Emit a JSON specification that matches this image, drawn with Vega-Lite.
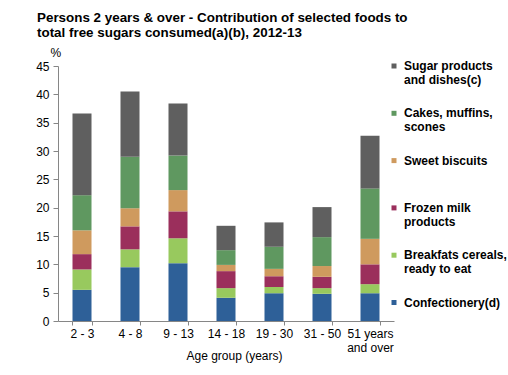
{
  "$schema": "https://vega.github.io/schema/vega-lite/v6.json",
  "width": 336,
  "height": 255,
  "autosize": {"type": "none"},
  "padding": {"left": 58, "top": 66, "right": 114, "bottom": 54},
  "background": "white",
  "config": {"view": {"stroke": null}, "font": "Liberation Sans"},
  "title": {
    "text": ["Persons 2 years & over  - Contribution of selected foods to", "total free sugars consumed(a)(b), 2012-13"],
    "anchor": "start",
    "frame": "group",
    "dx": -21,
    "offset": 7,
    "fontSize": 13.4,
    "fontWeight": "bold",
    "lineHeight": 15,
    "color": "#000000"
  },
  "data": {
    "values": [
      {"age": "2 - 3", "food": "Confectionery(d)", "value": 5.5},
      {"age": "2 - 3", "food": "Breakfats cereals, ready to eat", "value": 3.6},
      {"age": "2 - 3", "food": "Frozen milk products", "value": 2.7},
      {"age": "2 - 3", "food": "Sweet biscuits", "value": 4.2},
      {"age": "2 - 3", "food": "Cakes, muffins, scones", "value": 6.2},
      {"age": "2 - 3", "food": "Sugar products and dishes(c)", "value": 14.4},
      {"age": "4 - 8", "food": "Confectionery(d)", "value": 9.5},
      {"age": "4 - 8", "food": "Breakfats cereals, ready to eat", "value": 3.15},
      {"age": "4 - 8", "food": "Frozen milk products", "value": 4.05},
      {"age": "4 - 8", "food": "Sweet biscuits", "value": 3.2},
      {"age": "4 - 8", "food": "Cakes, muffins, scones", "value": 9.1},
      {"age": "4 - 8", "food": "Sugar products and dishes(c)", "value": 11.5},
      {"age": "9 - 13", "food": "Confectionery(d)", "value": 10.2},
      {"age": "9 - 13", "food": "Breakfats cereals, ready to eat", "value": 4.4},
      {"age": "9 - 13", "food": "Frozen milk products", "value": 4.75},
      {"age": "9 - 13", "food": "Sweet biscuits", "value": 3.75},
      {"age": "9 - 13", "food": "Cakes, muffins, scones", "value": 6.1},
      {"age": "9 - 13", "food": "Sugar products and dishes(c)", "value": 9.2},
      {"age": "14 - 18", "food": "Confectionery(d)", "value": 4.1},
      {"age": "14 - 18", "food": "Breakfats cereals, ready to eat", "value": 1.7},
      {"age": "14 - 18", "food": "Frozen milk products", "value": 3.0},
      {"age": "14 - 18", "food": "Sweet biscuits", "value": 1.1},
      {"age": "14 - 18", "food": "Cakes, muffins, scones", "value": 2.6},
      {"age": "14 - 18", "food": "Sugar products and dishes(c)", "value": 4.3},
      {"age": "19 - 30", "food": "Confectionery(d)", "value": 4.9},
      {"age": "19 - 30", "food": "Breakfats cereals, ready to eat", "value": 1.1},
      {"age": "19 - 30", "food": "Frozen milk products", "value": 1.9},
      {"age": "19 - 30", "food": "Sweet biscuits", "value": 1.3},
      {"age": "19 - 30", "food": "Cakes, muffins, scones", "value": 3.9},
      {"age": "19 - 30", "food": "Sugar products and dishes(c)", "value": 4.3},
      {"age": "31 - 50", "food": "Confectionery(d)", "value": 4.8},
      {"age": "31 - 50", "food": "Breakfats cereals, ready to eat", "value": 1.0},
      {"age": "31 - 50", "food": "Frozen milk products", "value": 2.0},
      {"age": "31 - 50", "food": "Sweet biscuits", "value": 1.9},
      {"age": "31 - 50", "food": "Cakes, muffins, scones", "value": 5.1},
      {"age": "31 - 50", "food": "Sugar products and dishes(c)", "value": 5.3},
      {"age": "51 years and over", "food": "Confectionery(d)", "value": 4.9},
      {"age": "51 years and over", "food": "Breakfats cereals, ready to eat", "value": 1.6},
      {"age": "51 years and over", "food": "Frozen milk products", "value": 3.5},
      {"age": "51 years and over", "food": "Sweet biscuits", "value": 4.5},
      {"age": "51 years and over", "food": "Cakes, muffins, scones", "value": 8.9},
      {"age": "51 years and over", "food": "Sugar products and dishes(c)", "value": 9.3}
    ]
  },
  "transform": [
    {"calculate": "indexof(['Confectionery(d)','Breakfats cereals, ready to eat','Frozen milk products','Sweet biscuits','Cakes, muffins, scones','Sugar products and dishes(c)'], datum.food)", "as": "k"}
  ],
  "mark": {"type": "bar"},
  "encoding": {
    "x": {
      "field": "age",
      "type": "nominal",
      "sort": null,
      "scale": {"paddingInner": 0.604, "paddingOuter": 0.302},
      "axis": {
        "title": "Age group (years)",
        "labelAngle": 0,
        "tickBand": "extent",
        "tickSize": 4,
        "labelPadding": 3,
        "labelFontSize": 12,
        "labelColor": "#000000",
        "labelLineHeight": 14,
        "labelExpr": "datum.value == '51 years and over' ? ['51 years','and over'] : datum.label",
        "domainColor": "#868686",
        "tickColor": "#868686",
        "titleFontSize": 12,
        "titleFontWeight": "normal",
        "titleColor": "#000000",
        "titleBaseline": "top",
        "titleY": 29,
        "titleX": 176
      }
    },
    "y": {
      "field": "value",
      "type": "quantitative",
      "stack": "zero",
      "scale": {"domain": [0, 45], "nice": false},
      "axis": {
        "values": [0, 5, 10, 15, 20, 25, 30, 35, 40, 45],
        "grid": false,
        "title": "%",
        "titleAngle": 0,
        "titleAlign": "left",
        "titleBaseline": "bottom",
        "titleX": -8,
        "titleY": -7,
        "titleFontSize": 12,
        "titleFontWeight": "normal",
        "titleColor": "#000000",
        "labelFontSize": 12,
        "labelColor": "#000000",
        "labelPadding": 4,
        "tickSize": 5,
        "domainColor": "#868686",
        "tickColor": "#868686"
      }
    },
    "color": {
      "field": "food",
      "type": "nominal",
      "scale": {
        "domain": ["Sugar products and dishes(c)", "Cakes, muffins, scones", "Sweet biscuits", "Frozen milk products", "Breakfats cereals, ready to eat", "Confectionery(d)"],
        "range": ["#5f5f5f", "#5f9860", "#cf9a5e", "#9b2f5c", "#98c95e", "#2e6098"]
      },
      "legend": {
        "title": null,
        "orient": "none",
        "legendX": 330,
        "legendY": -6,
        "padding": 0,
        "symbolType": "square",
        "symbolSize": 25,
        "symbolStrokeWidth": 0,
        "labelFontSize": 12,
        "labelFontWeight": "bold",
        "labelColor": "#000000",
        "labelLineHeight": 14,
        "labelOffset": 4,
        "labelLimit": 200,
        "labelBaseline": "alphabetic",
        "gridAlign": "all",
        "rowPadding": 21.3,
        "encode": {"labels": {"update": {"dy": {"value": 4}}}},
        "labelExpr": "datum.label == 'Sugar products and dishes(c)' ? ['Sugar products','and dishes(c)'] : datum.label == 'Cakes, muffins, scones' ? ['Cakes, muffins,','scones'] : datum.label == 'Frozen milk products' ? ['Frozen milk','products'] : datum.label == 'Breakfats cereals, ready to eat' ? ['Breakfats cereals,','ready to eat'] : datum.label"
      }
    },
    "order": {"field": "k", "type": "quantitative", "sort": "ascending"}
  }
}
